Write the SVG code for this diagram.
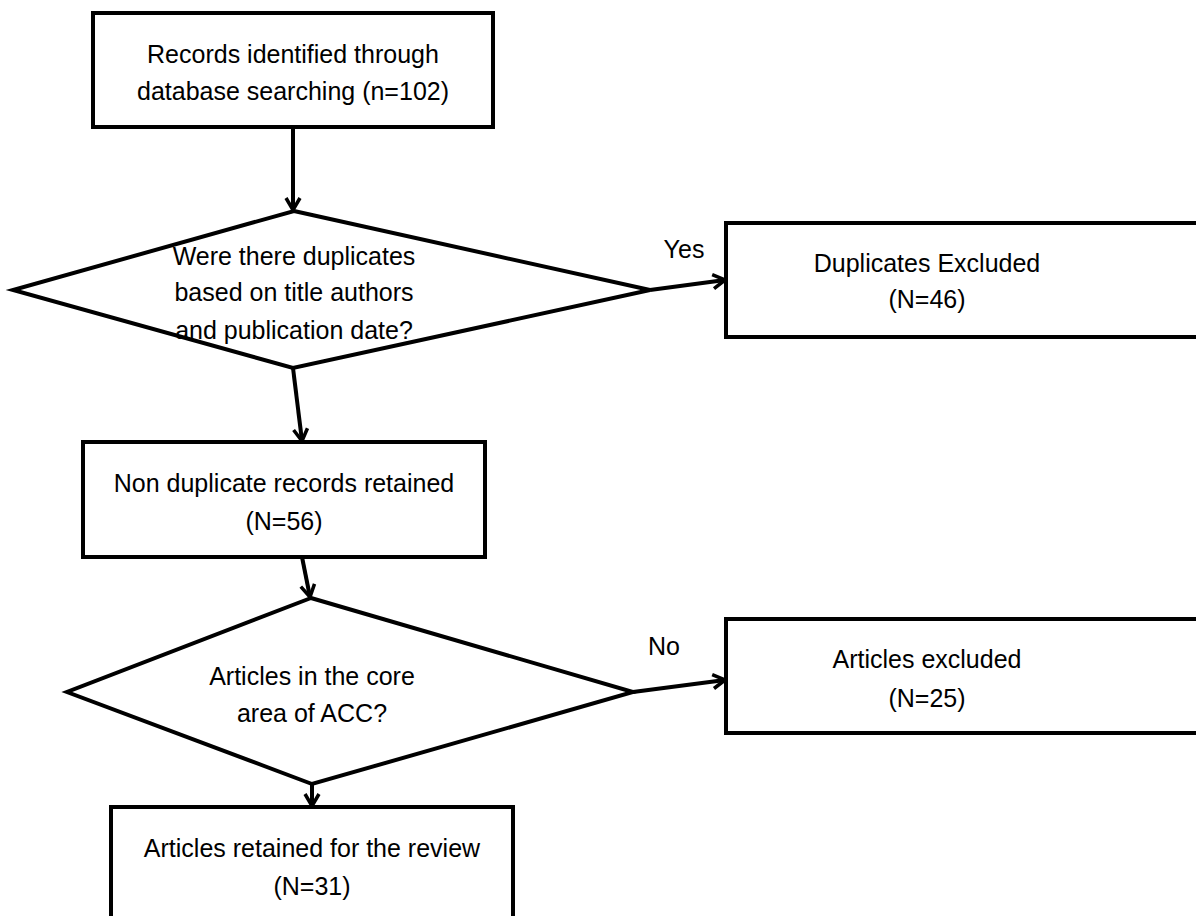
<svg xmlns="http://www.w3.org/2000/svg" width="1196" height="916" viewBox="0 0 1196 916">
<style>
.box{fill:#fff;stroke:#000;stroke-width:4}
.lbl{font-family:"Liberation Sans",Arial,sans-serif;font-size:25px;fill:#000;text-anchor:middle}
.edge{fill:none;stroke:#000;stroke-width:4}
</style>
<defs>
<marker id="arr" markerUnits="userSpaceOnUse" markerWidth="18" markerHeight="18" viewBox="0 0 18 18" refX="16" refY="9" orient="auto">
<path d="M4,2 L16,9 L4,16" fill="none" stroke="#000" stroke-width="3.5" stroke-linejoin="miter"/>
</marker>
</defs>
<rect width="1196" height="916" fill="#fff"/>
<g id="connectors">
<line class="edge" x1="293" y1="127" x2="293" y2="210" marker-end="url(#arr)"/>
<line class="edge" x1="293" y1="368" x2="302" y2="441" marker-end="url(#arr)"/>
<line class="edge" x1="302" y1="557" x2="310" y2="597" marker-end="url(#arr)"/>
<line class="edge" x1="312" y1="784" x2="312" y2="806" marker-end="url(#arr)"/>
<line class="edge" x1="650" y1="290" x2="725" y2="280" marker-end="url(#arr)"/>
<line class="edge" x1="633" y1="692" x2="725" y2="680" marker-end="url(#arr)"/>
<text class="lbl" x="684" y="258">Yes</text>
<text class="lbl" x="664" y="655">No</text>
</g>
<g id="n1">
<rect class="box" x="93" y="13" width="400" height="114"/>
<text class="lbl" x="293" y="63">Records identified through</text>
<text class="lbl" x="293" y="100">database searching (n=102)</text>
</g>
<g id="d1">
<polygon class="box" points="294,211 650,290 293,368 13,290"/>
<text class="lbl" x="294" y="265">Were there duplicates</text>
<text class="lbl" x="294" y="301">based on title authors</text>
<text class="lbl" x="294" y="339">and publication date?</text>
</g>
<g id="n2">
<rect class="box" x="726" y="223" width="480" height="114"/>
<text class="lbl" x="927" y="272">Duplicates Excluded</text>
<text class="lbl" x="927" y="308">(N=46)</text>
</g>
<g id="n3">
<rect class="box" x="83" y="442" width="402" height="115"/>
<text class="lbl" x="284" y="492">Non duplicate records retained</text>
<text class="lbl" x="284" y="530">(N=56)</text>
</g>
<g id="d2">
<polygon class="box" points="311,598 633,692 312,784 67,692"/>
<text class="lbl" x="312" y="685">Articles in the core</text>
<text class="lbl" x="312" y="722">area of ACC?</text>
</g>
<g id="n4">
<rect class="box" x="726" y="619" width="480" height="114"/>
<text class="lbl" x="927" y="668">Articles excluded</text>
<text class="lbl" x="927" y="707">(N=25)</text>
</g>
<g id="n5">
<rect class="box" x="111" y="807" width="402" height="130"/>
<text class="lbl" x="312" y="857">Articles retained for the review</text>
<text class="lbl" x="312" y="895">(N=31)</text>
</g>
</svg>
